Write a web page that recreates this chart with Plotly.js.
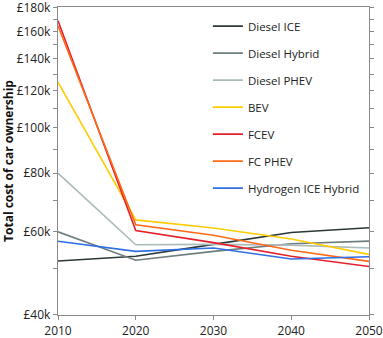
<!DOCTYPE html>
<html>
<head>
<meta charset="utf-8">
<script src="https://cdn.plot.ly/plotly-3.0.1.min.js"></script>
<style>html,body{margin:0;padding:0;background:#fff;}#chart{width:383px;height:338px;}</style>
</head>
<body>
<div id="chart"></div>
<script>
const years = [2010, 2020, 2030, 2040, 2050];
const seriesNames = ["Diesel ICE", "Diesel Hybrid", "Diesel PHEV", "BEV", "FCEV", "FC PHEV", "Hydrogen ICE Hybrid"];
const dieselICE = [52000, 53200, 56400, 59800, 61200];
const dieselHybrid = [60000, 52200, 54500, 56600, 57300];
const dieselPHEV = [80000, 56300, 56400, 56200, 55400];
const bev = [125000, 63600, 61100, 57900, 53700];
const fcev = [168800, 60400, 56900, 53200, 50600];
const fcPHEV = [164700, 62100, 59000, 54800, 51900];
const hydrogenICEHybrid = [57300, 54500, 55400, 52500, 53100];
const seriesColors = ["#2b3838", "#6e7e7e", "#abbaba", "#ffcc00", "#e3202b", "#ff6818", "#2f6fe4"];
const yTickVals = [40000, 50000, 60000, 70000, 80000, 90000, 100000, 110000, 120000, 130000, 140000, 150000, 160000, 170000, 180000];
const yTickText = ["£40k", "", "£60k", "", "£80k", "", "£100k", "", "£120k", "", "£140k", "", "£160k", "", "£180k"];

const allSeries = [dieselICE, dieselHybrid, dieselPHEV, bev, fcev, fcPHEV, hydrogenICEHybrid];
const traces = allSeries.map((vals, i) => ({
  x: years, y: vals, type: 'scatter', mode: 'lines',
  name: seriesNames[i], legendgroup: 'g' + i,
  line: {color: seriesColors[i], width: 1.6}
}));

const axisColor = '#8a8a8a';
const layout = {
  width: 383, height: 338,
  margin: {l: 58, r: 14, t: 7, b: 23},
  paper_bgcolor: '#fff', plot_bgcolor: '#fff',
  font: {family: 'Open Sans, sans-serif', size: 12, color: '#222'},
  showlegend: true,
  legend: {x: 0.482, y: 0.985, xanchor: 'left', yanchor: 'top', bgcolor: 'rgba(0,0,0,0)',
           font: {size: 11.5, color: '#222'}, tracegroupgap: 8},
  xaxis: {
    range: [2010, 2050], tickvals: years, ticktext: years.map(String),
    showgrid: false, zeroline: false, showline: true, linecolor: axisColor, linewidth: 1.2,
    ticks: 'outside', ticklen: 4, tickcolor: axisColor, mirror: true,
    tickfont: {size: 12, color: '#222'}
  },
  yaxis: {
    type: 'log', range: [Math.log10(39900), Math.log10(180600)],
    tickmode: 'array', tickvals: yTickVals, ticktext: yTickText,
    ticklabeloverflow: 'allow',
    showgrid: false, zeroline: false, showline: true, linecolor: axisColor, linewidth: 1.2,
    ticks: 'outside', ticklen: 4, tickcolor: axisColor, mirror: 'ticks',
    tickfont: {size: 12, color: '#222'},
    title: {text: '<b>Total cost of car ownership</b>', font: {size: 12, color: '#111'}, standoff: 6}
  }
};
Plotly.newPlot('chart', traces, layout, {displayModeBar: false, staticPlot: true});
</script>
</body>
</html>
